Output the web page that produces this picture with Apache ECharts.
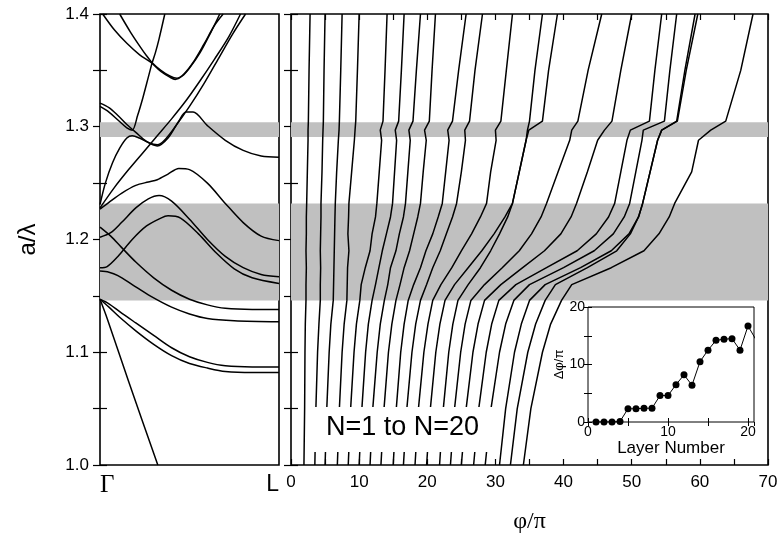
<!DOCTYPE html>
<html><head><meta charset="utf-8">
<script src="https://cdn.jsdelivr.net/npm/echarts@6/dist/echarts.min.js"></script>
<style>html,body{margin:0;padding:0;background:#fff}#c{width:781px;height:541px}</style>
</head><body><div id="c"></div>
<script>
// ---------- data ----------
const gapBands = [[1.146, 1.232], [1.291, 1.304]];
const aLambdaTicks = [1.0, 1.1, 1.2, 1.3, 1.4];
const phiTicks = [0, 10, 20, 30, 40, 50, 60, 70];
const kLabels = ['Γ', 'L'];
const insetXTicks = [0, 10, 20];
const insetYTicks = [0, 10, 20];

// a/λ levels at which every transmission-phase curve is sampled
const phaseLevels = [1.0, 1.05, 1.1, 1.125, 1.146, 1.16, 1.175, 1.19, 1.205, 1.22, 1.232, 1.26, 1.288, 1.297, 1.305, 1.35, 1.4];
// φ/π of curve N=1..20 at those levels
const phaseN1  = [1.9, 2.0, 2.05, 2.1, 2.2, 2.2, 2.25, 2.2, 2.25, 2.25, 2.3, 2.4, 2.5, 2.5, 2.55, 2.65, 2.8];
const phaseN2  = [3.5, 3.65, 3.9, 4.1, 4.3, 4.3, 4.35, 4.3, 4.35, 4.4, 4.4, 4.55, 4.65, 4.7, 4.75, 4.85, 5.0];
const phaseN3  = [5.0, 5.25, 5.6, 5.85, 6.2, 6.25, 6.3, 6.35, 6.4, 6.45, 6.5, 6.7, 6.95, 7.05, 7.1, 7.3, 7.5];
const phaseN4  = [6.8, 7.1, 7.5, 7.8, 8.2, 8.25, 8.3, 8.5, 8.35, 8.45, 8.5, 8.9, 9.3, 9.4, 9.5, 9.75, 10.0];
const phaseN5  = [8.4, 8.75, 9.25, 9.6, 10.1, 10.3, 10.9, 11.6, 11.9, 12.4, 12.6, 12.95, 13.3, 13.1, 13.5, 13.8, 14.1];
const phaseN6  = [10.0, 10.4, 10.95, 11.35, 11.9, 12.4, 12.9, 13.4, 14.0, 14.6, 14.9, 15.2, 15.5, 15.3, 15.8, 16.2, 16.6];
const phaseN7  = [11.6, 12.0, 12.65, 13.1, 13.7, 14.2, 14.6, 15.4, 15.9, 16.5, 16.8, 17.15, 17.5, 17.3, 17.9, 18.4, 19.0];
const phaseN8  = [13.2, 13.65, 14.3, 14.8, 15.4, 16.0, 16.6, 17.4, 18.0, 18.6, 19.0, 19.4, 19.85, 19.6, 20.3, 20.7, 21.2];
const phaseN9  = [15.0, 15.45, 16.1, 16.6, 17.2, 18.0, 19.0, 19.8, 20.8, 21.6, 22.2, 22.7, 23.2, 23.0, 23.7, 24.6, 25.7];
const phaseN10 = [16.5, 17.0, 17.75, 18.3, 19.0, 19.9, 20.8, 21.9, 22.8, 23.7, 24.3, 25.0, 25.6, 25.5, 26.2, 27.0, 28.1];
const phaseN11 = [18.2, 18.7, 19.5, 20.1, 20.8, 22.0, 23.6, 25.0, 26.5, 27.8, 28.7, 29.3, 30.1, 30.0, 30.8, 31.6, 32.5];
const phaseN12 = [19.9, 20.45, 21.25, 21.85, 22.6, 24.0, 26.0, 28.0, 29.8, 31.4, 32.5, 33.5, 34.5, 34.7, 35.0, 35.8, 36.9];
const phaseN13 = [21.8, 22.35, 23.15, 23.75, 24.5, 26.0, 27.8, 29.3, 30.6, 31.8, 32.5, 33.5, 34.5, 34.9, 36.9, 37.8, 39.1];
const phaseN14 = [23.4, 24.0, 24.9, 25.55, 26.4, 28.4, 31.0, 33.5, 35.3, 36.7, 37.5, 39.2, 40.9, 41.2, 42.1, 43.6, 45.6];
const phaseN15 = [25.0, 25.7, 26.7, 27.45, 28.4, 30.8, 34.0, 37.2, 39.6, 41.1, 41.9, 43.5, 45.0, 46.0, 47.1, 48.4, 50.0];
const phaseN16 = [26.8, 27.55, 28.65, 29.45, 30.5, 33.0, 37.5, 42.0, 44.8, 46.6, 47.5, 48.4, 49.3, 49.8, 52.6, 53.4, 54.4];
const phaseN17 = [28.5, 29.35, 30.6, 31.5, 32.7, 35.0, 40.0, 44.5, 47.3, 48.9, 49.7, 50.6, 51.5, 51.7, 54.8, 55.6, 56.6];
const phaseN18 = [30.6, 31.5, 32.8, 33.8, 35.0, 37.3, 42.5, 47.0, 49.6, 51.0, 51.6, 52.7, 53.8, 54.4, 56.6, 57.8, 59.3];
const phaseN19 = [32.2, 33.2, 34.75, 35.9, 37.3, 38.8, 43.5, 47.8, 49.8, 51.0, 51.6, 52.7, 53.8, 54.4, 56.7, 58.0, 59.7];
const phaseN20 = [34.1, 35.2, 36.9, 38.1, 39.7, 41.2, 47.0, 51.8, 54.0, 55.5, 56.3, 58.8, 59.8, 61.6, 63.8, 66.0, 67.8];
const phaseCurves = [phaseN1, phaseN2, phaseN3, phaseN4, phaseN5, phaseN6, phaseN7, phaseN8, phaseN9, phaseN10,
  phaseN11, phaseN12, phaseN13, phaseN14, phaseN15, phaseN16, phaseN17, phaseN18, phaseN19, phaseN20];

// band structure Γ (0) → L (1): [k, a/λ]
const bandA = [[0, 1.147], [0.04, 1.13], [0.16, 1.074], [0.323, 1.0]];
const bandB = [[0, 1.147], [0.05, 1.143], [0.11, 1.136], [0.2, 1.126], [0.3, 1.115], [0.4, 1.104], [0.5, 1.096], [0.6, 1.091], [0.7, 1.088], [0.85, 1.087], [1, 1.087]];
const bandC = [[0, 1.147], [0.05, 1.14], [0.11, 1.131], [0.2, 1.119], [0.3, 1.107], [0.4, 1.097], [0.5, 1.09], [0.6, 1.086], [0.7, 1.083], [0.85, 1.082], [1, 1.082]];
const bandK1 = [[0, 1.211], [0.06, 1.203], [0.12, 1.193], [0.2, 1.18], [0.3, 1.166], [0.4, 1.155], [0.5, 1.147], [0.6, 1.142], [0.7, 1.139], [0.85, 1.138], [1, 1.138]];
const bandK2 = [[0, 1.172], [0.05, 1.171], [0.1, 1.168], [0.18, 1.16], [0.28, 1.15], [0.4, 1.14], [0.5, 1.134], [0.6, 1.13], [0.75, 1.128], [1, 1.127]];
const bandG1 = [[0, 1.202], [0.06, 1.206], [0.12, 1.215], [0.2, 1.228], [0.27, 1.236], [0.33, 1.239], [0.4, 1.234], [0.5, 1.218], [0.6, 1.2], [0.7, 1.185], [0.8, 1.175], [0.9, 1.169], [1, 1.167]];
const bandG2 = [[0, 1.175], [0.04, 1.176], [0.1, 1.185], [0.18, 1.2], [0.26, 1.212], [0.34, 1.219], [0.38, 1.221], [0.45, 1.219], [0.55, 1.205], [0.65, 1.188], [0.75, 1.174], [0.85, 1.166], [1, 1.161]];
const bandG3 = [[0, 1.227], [0.05, 1.233], [0.12, 1.241], [0.2, 1.248], [0.27, 1.251], [0.32, 1.253], [0.38, 1.258], [0.44, 1.263], [0.5, 1.262], [0.6, 1.25], [0.7, 1.232], [0.8, 1.215], [0.9, 1.203], [1, 1.199]];
const bandH1 = [[0, 1.321], [0.05, 1.317], [0.1, 1.31], [0.15, 1.302], [0.2, 1.295], [0.26, 1.287], [0.32, 1.283], [0.38, 1.29], [0.44, 1.305], [0.48, 1.313], [0.52, 1.313], [0.6, 1.301], [0.7, 1.288], [0.8, 1.279], [0.9, 1.274], [1, 1.273]];
const bandH2 = [[0, 1.318], [0.05, 1.313], [0.1, 1.306], [0.15, 1.299], [0.18, 1.297], [0.21, 1.31], [0.24, 1.326], [0.27, 1.344], [0.29, 1.356], [0.31, 1.366], [0.33, 1.378], [0.362, 1.4]];
const bandS1 = [[0, 1.231], [0.03, 1.25], [0.07, 1.268], [0.11, 1.281], [0.15, 1.29], [0.18, 1.292], [0.22, 1.29], [0.27, 1.286], [0.32, 1.284], [0.36, 1.288], [0.42, 1.3], [0.5, 1.318], [0.58, 1.338], [0.66, 1.36], [0.74, 1.382], [0.813, 1.4]];
const bandS2 = [[0, 1.228], [0.08, 1.246], [0.16, 1.262], [0.24, 1.277], [0.32, 1.292], [0.4, 1.307], [0.48, 1.323], [0.56, 1.341], [0.64, 1.36], [0.72, 1.38], [0.785, 1.4]];
const bandP1 = [[0.015, 1.4], [0.08, 1.386], [0.15, 1.374], [0.22, 1.364], [0.285, 1.357], [0.34, 1.349], [0.39, 1.344], [0.42, 1.342], [0.46, 1.345], [0.5, 1.352], [0.56, 1.366], [0.62, 1.384], [0.669, 1.4]];
const bandP2 = [[0.11, 1.4], [0.17, 1.384], [0.22, 1.372], [0.26, 1.363], [0.29, 1.357], [0.34, 1.35], [0.39, 1.345], [0.43, 1.343], [0.47, 1.347], [0.52, 1.357], [0.58, 1.373], [0.64, 1.39], [0.688, 1.4]];
const dispersionBands = [bandA, bandB, bandC, bandK1, bandK2, bandG1, bandG2, bandG3, bandH1, bandH2, bandS1, bandS2, bandP1, bandP2];

// inset: phase shift in the gap vs layer number
const layerNumber = [1, 2, 3, 4, 5, 6, 7, 8, 9, 10, 11, 12, 13, 14, 15, 16, 17, 18, 19, 20, 21];
const deltaPhi = [0, 0, 0, 0.1, 2.3, 2.3, 2.4, 2.4, 4.6, 4.6, 6.5, 8.2, 6.4, 10.5, 12.5, 14.2, 14.4, 14.5, 12.5, 16.7, 14.3];

// ---------- chart ----------
const sans = '"Liberation Sans", Arial, sans-serif';
const serif = '"Liberation Serif", "Times New Roman", serif';
const black = '#000';
const gray = '#c0c0c0';

const near = (v, list) => list.some(t => Math.abs(t - v) < 1e-6);

function yAx(grid, pos, labels, extra) {
  return Object.assign({
    type: 'value', gridIndex: grid, position: pos, min: 1.0, max: 1.4, interval: 0.05,
    axisLine: { show: false }, splitLine: { show: false },
    axisTick: { show: true, inside: true, length: 7, lineStyle: { color: black, width: 1.2 } },
    axisLabel: labels ? {
      show: true, margin: 11, color: black, fontSize: 17, fontFamily: sans,
      formatter: v => { const r = Math.round(v * 100) / 100; return near(r, aLambdaTicks) ? r.toFixed(1) : ''; }
    } : { show: false }
  }, extra || {});
}
function phiAx(pos, labels, extra) {
  return Object.assign({
    type: 'value', gridIndex: 1, position: pos, min: 0, max: 70, interval: 5,
    axisLine: { show: false }, splitLine: { show: false },
    axisTick: { show: true, inside: true, length: 6, lineStyle: { color: black, width: 1.2 } },
    axisLabel: labels ? {
      show: true, margin: 9, color: black, fontSize: 17, fontFamily: sans,
      formatter: v => near(v, phiTicks) ? String(v) : ''
    } : { show: false }
  }, extra || {});
}
function insetX(pos, labels, extra) {
  return Object.assign({
    type: 'value', gridIndex: 2, position: pos, min: 0, max: 20.75, interval: 5, zlevel: 1, z: 10,
    axisLine: { show: false }, splitLine: { show: false },
    axisTick: { show: true, inside: true, length: 4, lineStyle: { color: black, width: 1 } },
    axisLabel: labels ? {
      show: true, margin: 3, color: black, fontSize: 14, fontFamily: sans, showMaxLabel: false,
      formatter: v => near(v, insetXTicks) ? String(v) : ''
    } : { show: false }
  }, extra || {});
}
function insetY(pos, labels, extra) {
  return Object.assign({
    type: 'value', gridIndex: 2, position: pos, min: 0, max: 20, interval: 5, zlevel: 1, z: 10,
    axisLine: { show: false }, splitLine: { show: false },
    axisTick: { show: true, inside: true, length: 4, lineStyle: { color: black, width: 1 } },
    axisLabel: labels ? {
      show: true, margin: 3, color: black, fontSize: 14, fontFamily: sans,
      formatter: v => near(v, insetYTicks) ? String(v) : ''
    } : { show: false }
  }, extra || {});
}

const series = [];
// gray gap bands
[[0, 0], [2, 2]].forEach(([xi, yi]) => {
  series.push({
    type: 'line', xAxisIndex: xi, yAxisIndex: yi, data: [], silent: true, z: 1, symbol: 'none',
    markArea: { silent: true, itemStyle: { color: gray }, data: gapBands.map(b => [{ yAxis: b[0] }, { yAxis: b[1] }]) }
  });
});
// band structure
dispersionBands.forEach(b => series.push({
  type: 'line', xAxisIndex: 0, yAxisIndex: 0, data: b, symbol: 'none', silent: true, z: 3, smooth: 0.3,
  lineStyle: { color: black, width: 1.5 }
}));
// phase curves
phaseCurves.forEach(c => series.push({
  type: 'line', xAxisIndex: 2, yAxisIndex: 2, data: phaseLevels.map((v, j) => [c[j], v]),
  symbol: 'none', silent: true, z: 3, lineStyle: { color: black, width: 1.5 }
}));
// inset
series.push({
  type: 'line', xAxisIndex: 4, yAxisIndex: 4, zlevel: 1, z: 20, clip: true,
  data: layerNumber.map((n, i) => [n, deltaPhi[i]]),
  symbol: 'circle', symbolSize: 7, itemStyle: { color: black }, lineStyle: { color: black, width: 1 }
});

const option = {
  animation: false,
  backgroundColor: '#fff',
  grid: [
    { left: 100, top: 14, width: 179, height: 451, show: true, borderColor: black, borderWidth: 1.6, backgroundColor: 'transparent' },
    { left: 291, top: 14, width: 477, height: 451, show: true, borderColor: black, borderWidth: 1.6, backgroundColor: 'transparent' },
    { left: 588, top: 307, width: 166, height: 115, show: true, borderColor: black, borderWidth: 1, backgroundColor: '#fff', zlevel: 1, z: 5 }
  ],
  xAxis: [
    {
      type: 'value', gridIndex: 0, position: 'bottom', min: 0, max: 1, interval: 1,
      axisLine: { show: false }, axisTick: { show: false }, splitLine: { show: false },
      axisLabel: {
        show: true, margin: 8, color: black, fontSize: 23, fontFamily: sans,
        alignMinLabel: 'left', alignMaxLabel: 'right',
        formatter: v => v === 0 ? '{g|' + kLabels[0] + '}' : (v === 1 ? kLabels[1] : ''),
        rich: { g: { fontFamily: serif, fontSize: 25, color: black } }
      }
    },
    {
      type: 'value', gridIndex: 0, position: 'top', min: 0, max: 1, interval: 1,
      axisLine: { show: false }, axisTick: { show: false }, axisLabel: { show: false }, splitLine: { show: false }
    },
    phiAx('bottom', true, {
      name: 'φ/π', nameLocation: 'middle', nameGap: 45,
      nameTextStyle: { fontFamily: serif, fontSize: 24, color: black }
    }),
    phiAx('top', false),
    insetX('bottom', true, {
      name: 'Layer Number', nameLocation: 'middle', nameGap: 16,
      nameTextStyle: { fontFamily: sans, fontSize: 17, color: black }
    }),
    insetX('top', false)
  ],
  yAxis: [
    yAx(0, 'left', true, {
      name: 'a/λ', nameLocation: 'middle', nameGap: 60,
      nameTextStyle: { fontFamily: sans, fontSize: 24, color: black }
    }),
    yAx(0, 'right', false),
    yAx(1, 'left', false),
    yAx(1, 'right', false),
    insetY('left', true, {
      name: 'Δφ/π', nameLocation: 'middle', nameGap: 20,
      nameTextStyle: { fontFamily: sans, fontSize: 13, color: black }
    }),
    insetY('right', false)
  ],
  graphic: [
    { type: 'rect', left: 312, top: 407, shape: { width: 184, height: 45 }, style: { fill: '#fff' }, z: 100, silent: true },
    {
      type: 'text', left: 326, top: 414, z: 101, silent: true,
      style: { text: 'N=1 to N=20', fill: black, fontSize: 27, fontFamily: sans }
    }
  ],
  series: series
};

const chart = echarts.init(document.getElementById('c'), null, { renderer: 'canvas' });
chart.setOption(option);
</script>
</body></html>
